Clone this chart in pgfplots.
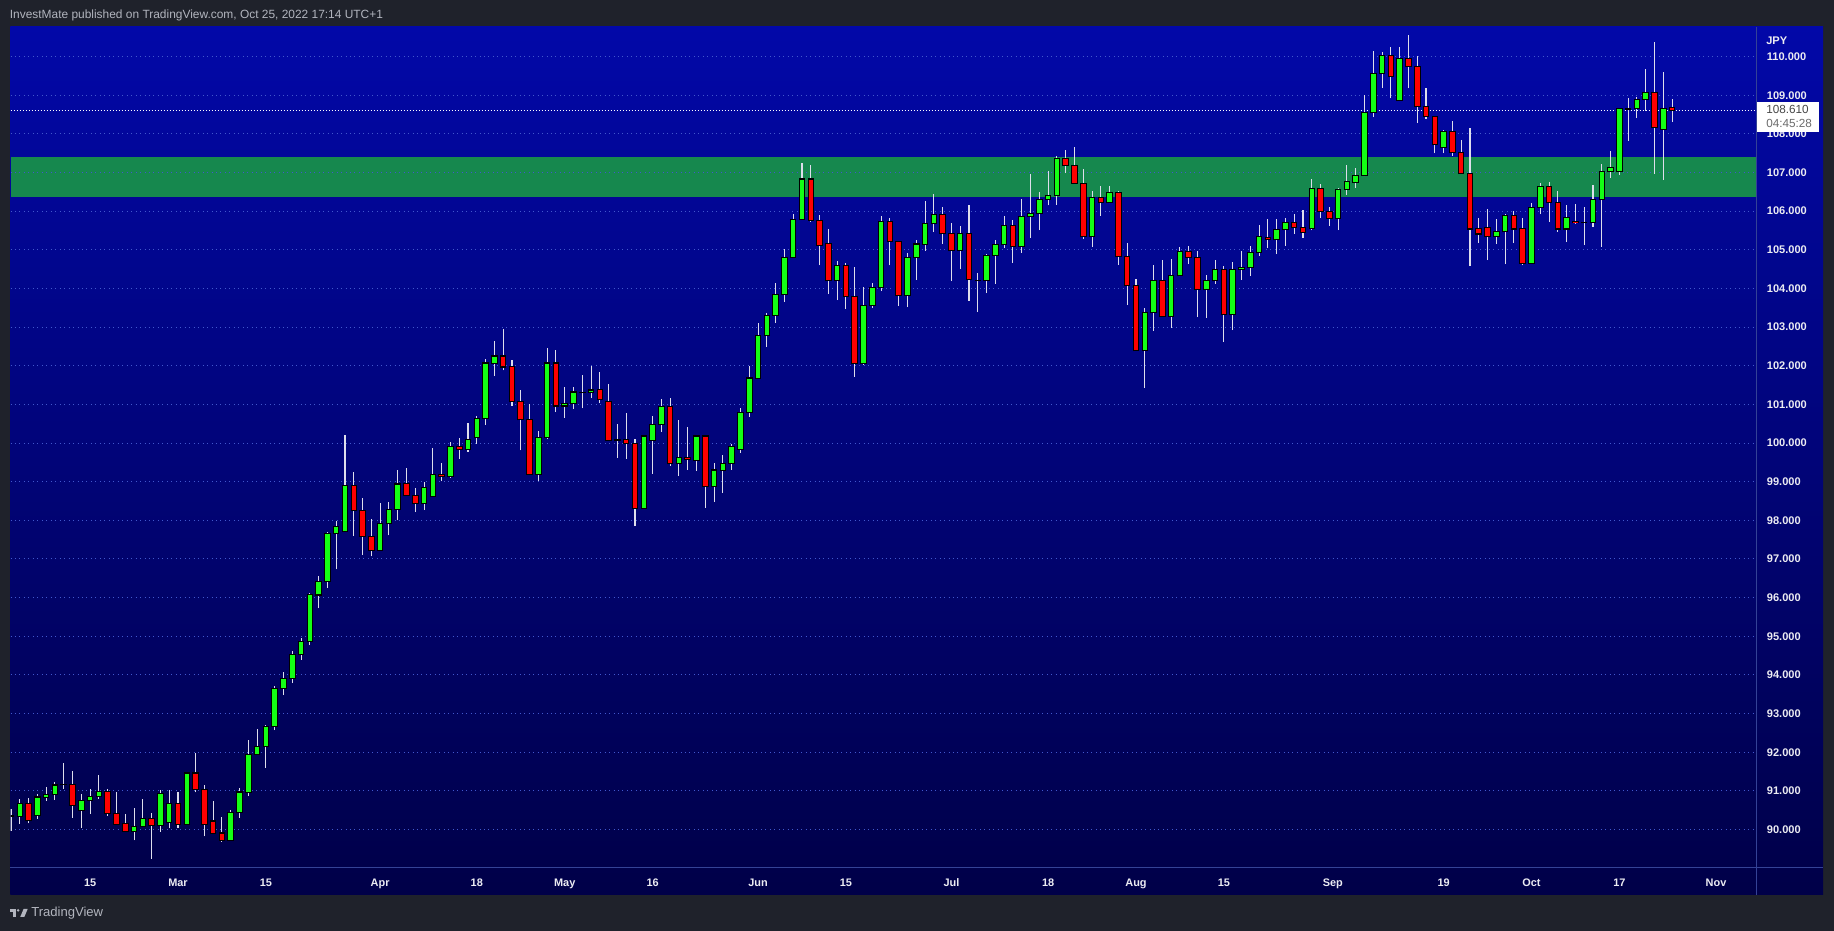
\documentclass[border=0pt]{standalone}
\usepackage{pgfplots}
\pgfplotsset{compat=1.18}
\usepackage{pgfplotstable}
\usepackage{fontspec}
\setmainfont{Liberation Sans}

\definecolor{bgdark}{RGB}{31,34,43}
\definecolor{paneltop}{RGB}{2,8,168}
\definecolor{panelbot}{RGB}{0,0,72}
\definecolor{sepline}{RGB}{52,66,150}
\definecolor{gridblue}{RGB}{66,88,205}
\definecolor{zone}{RGB}{22,136,78}
\definecolor{upcol}{RGB}{20,255,20}
\definecolor{downcol}{RGB}{255,0,0}
\definecolor{wickcol}{RGB}{222,222,236}
\definecolor{labelcol}{RGB}{236,236,242}
\definecolor{headcol}{RGB}{178,181,190}
\definecolor{boxtext}{RGB}{70,70,70}

% daily candles, i = weekday index (0 = Feb 15, 2022)
\pgfplotstableread{
i o h l c
-9 90.35 90.53 89.97 90.35
-8 90.34 90.78 90.15 90.68
-7 90.68 90.81 90.16 90.24
-6 90.37 90.92 90.28 90.84
-5 90.84 91.09 90.74 90.91
-4 90.91 91.23 90.77 91.15
-3 91.16 91.73 91.05 91.16
-2 91.17 91.52 90.30 90.63
-1 90.50 90.92 90.05 90.76
0 90.76 91.05 90.41 90.86
1 90.86 91.41 90.80 90.99
2 90.99 91.05 90.36 90.42
3 90.42 90.97 90.14 90.14
4 90.16 90.41 89.96 89.96
5 89.96 90.56 89.72 90.08
6 90.09 90.79 90.09 90.28
7 90.28 90.43 89.25 90.10
8 90.11 91.03 89.94 90.94
9 90.19 91.03 90.03 90.68
10 90.68 90.97 90.05 90.14
11 90.14 91.49 90.14 91.46
12 91.46 91.99 90.96 91.03
13 91.03 91.16 89.82 90.14
14 90.22 90.74 89.91 89.91
15 89.91 90.33 89.69 89.72
16 89.72 90.51 89.72 90.45
17 90.45 91.08 90.31 90.97
18 90.97 92.32 90.88 91.95
19 91.95 92.60 91.93 92.15
20 92.15 92.70 91.60 92.67
21 92.67 93.71 92.57 93.65
22 93.65 94.07 93.48 93.91
23 93.91 94.63 93.79 94.52
24 94.52 94.95 94.39 94.86
25 94.86 96.13 94.77 96.07
26 96.07 96.55 95.73 96.41
27 96.41 97.71 96.25 97.65
28 97.65 97.99 96.73 97.83
29 97.71 100.20 97.71 98.91
30 98.91 99.24 97.59 98.25
31 98.25 98.57 97.10 97.59
32 97.57 98.03 97.07 97.23
33 97.23 98.44 97.23 97.91
34 97.91 98.47 97.61 98.29
35 98.29 99.29 98.00 98.94
36 98.95 99.35 98.64 98.64
37 98.64 98.83 98.21 98.44
38 98.44 98.99 98.27 98.85
39 98.62 99.86 98.62 99.19
40 99.19 99.48 99.01 99.13
41 99.13 100.04 99.10 99.91
42 99.91 100.12 99.59 99.83
43 99.83 100.53 99.77 100.10
44 100.14 100.71 99.98 100.63
45 100.63 102.18 100.47 102.07
46 102.07 102.65 101.73 102.25
47 102.25 102.96 101.88 101.97
48 101.97 102.16 100.96 101.07
49 101.07 101.36 99.81 100.60
50 100.60 101.02 99.19 99.19
51 99.19 100.30 99.02 100.14
52 100.14 102.47 100.10 102.07
53 102.07 102.42 100.80 100.96
54 100.96 101.44 100.65 101.02
55 101.02 101.44 100.88 101.32
56 101.31 101.77 100.90 101.31
57 101.30 102.00 101.16 101.37
58 101.38 101.85 101.03 101.12
59 101.08 101.53 100.07 100.07
60 100.08 100.49 99.62 100.08
61 100.10 100.78 99.60 99.99
62 99.99 100.11 97.85 98.31
63 98.31 100.20 98.30 100.18
64 100.07 100.69 99.21 100.48
65 100.48 101.14 100.29 100.95
66 100.95 101.17 99.41 99.47
67 99.47 100.60 99.16 99.62
68 99.63 100.42 99.31 99.58
69 99.55 100.20 99.28 100.18
70 100.18 100.21 98.33 98.88
71 98.88 99.48 98.48 99.30
72 99.30 99.69 98.72 99.48
73 99.48 99.98 99.31 99.92
74 99.84 100.90 99.75 100.80
75 100.80 102.00 100.68 101.68
76 101.68 103.10 101.68 102.79
77 102.79 103.36 102.49 103.31
78 103.31 104.14 103.11 103.85
79 103.85 105.01 103.66 104.81
80 104.81 105.93 104.81 105.78
81 105.78 107.25 105.78 106.83
82 106.83 107.20 105.73 105.77
83 105.76 105.89 104.60 105.11
84 105.16 105.53 103.86 104.20
85 104.20 104.72 103.70 104.59
86 104.59 104.67 103.47 103.79
87 103.79 104.55 101.72 102.05
88 102.05 104.03 102.03 103.55
89 103.55 104.15 103.49 104.02
90 104.02 105.87 103.93 105.73
91 105.73 105.82 104.60 105.21
92 105.21 105.21 103.55 103.81
93 103.81 104.92 103.52 104.80
94 104.80 105.25 104.22 105.15
95 105.15 106.26 104.97 105.68
96 105.68 106.44 105.46 105.91
97 105.91 106.10 105.15 105.42
98 105.42 105.69 104.19 104.98
99 104.98 105.61 104.50 105.42
100 105.42 106.15 103.68 104.23
101 104.21 104.39 103.39 104.21
102 104.20 104.88 103.88 104.85
103 104.85 105.25 104.12 105.13
104 105.13 105.87 105.05 105.63
105 105.63 105.77 104.66 105.08
106 105.08 106.31 104.92 105.86
107 105.86 106.96 105.31 105.94
108 105.94 106.49 105.51 106.30
109 106.30 107.03 106.15 106.40
110 106.40 107.42 106.16 107.36
111 107.36 107.58 107.00 107.18
112 107.18 107.66 106.72 106.72
113 106.72 107.09 105.28 105.34
114 105.34 106.52 105.07 106.35
115 106.35 106.65 105.88 106.22
116 106.22 106.65 106.20 106.48
117 106.48 106.52 104.61 104.82
118 104.82 105.17 103.57 104.07
119 104.07 104.24 102.39 102.39
120 102.39 103.49 101.42 103.37
121 103.37 104.60 102.90 104.20
122 104.20 104.73 103.27 103.27
123 103.27 104.75 102.98 104.33
124 104.33 105.07 104.31 104.95
125 104.95 105.09 104.63 104.80
126 104.80 104.96 103.26 103.97
127 103.97 104.34 103.23 104.20
128 104.20 104.73 104.12 104.49
129 104.49 104.57 102.61 103.32
130 103.32 104.68 102.92 104.49
131 104.49 104.96 104.22 104.54
132 104.54 105.09 104.32 104.93
133 104.93 105.64 104.85 105.34
134 105.32 105.79 105.05 105.26
135 105.26 105.79 104.89 105.52
136 105.52 105.82 105.10 105.70
137 105.70 105.92 105.42 105.58
138 105.58 106.02 105.31 105.45
139 105.55 106.83 105.50 106.59
140 106.59 106.70 105.83 105.99
141 105.99 106.10 105.62 105.81
142 105.81 106.61 105.51 106.56
143 106.56 107.19 106.42 106.77
144 106.74 107.11 106.61 106.92
145 106.92 109.00 106.90 108.55
146 108.55 110.14 108.43 109.56
147 109.56 110.11 109.18 110.03
148 110.03 110.24 108.92 109.48
149 108.86 110.24 108.86 109.95
150 109.95 110.55 109.18 109.74
151 109.74 110.01 108.28 108.70
152 108.70 109.18 108.39 108.45
153 108.45 108.47 107.50 107.72
154 107.64 108.11 107.50 108.06
155 108.06 108.34 107.43 107.51
156 107.51 107.83 106.97 106.97
157 106.97 108.16 104.58 105.54
158 105.54 105.83 105.17 105.41
159 105.57 106.06 104.73 105.34
160 105.34 105.80 105.15 105.47
161 105.47 105.93 104.63 105.88
162 105.88 106.01 105.17 105.54
163 105.54 105.81 104.60 104.65
164 104.65 106.22 104.65 106.09
165 106.09 106.74 105.92 106.63
166 106.63 106.76 105.72 106.22
167 106.22 106.53 105.47 105.54
168 105.54 106.17 105.20 105.83
169 105.74 106.19 105.68 105.70
170 105.70 106.11 105.12 105.70
171 105.70 106.68 105.60 106.30
172 106.30 107.23 105.08 107.02
173 107.02 107.56 106.87 107.12
174 107.02 108.68 106.93 108.65
175 108.64 108.94 107.82 108.64
176 108.65 108.96 108.41 108.89
177 108.89 109.69 108.60 109.07
178 109.07 110.37 106.97 108.16
179 108.11 109.59 106.81 108.65
180 108.67 108.89 108.31 108.61
}\cadjpy

% #1 colour, #2 line width of the vertical stroke
\pgfplotsset{
  candle/.style 2 args={draw=none, mark=none, forget plot,
    error bars/.cd, y dir=plus, y explicit, error mark=none,
    error bar style={solid, line cap=butt, draw=#1, line width=#2}},
}

\begin{document}
\begin{tikzpicture}[x=0.75pt,y=0.75pt]
% page and panel
\fill[bgdark] (0,0) rectangle (1834,931);
\shade[top color=paneltop, bottom color=panelbot] (10.3,36) rectangle (1823,904);

\begin{axis}[
  at={(7.875pt,47.25pt)}, anchor=south west,
  width=1309.5pt, height=630.75pt, scale only axis,
  xmin=-9.057, xmax=189.6, ymin=89.005, ymax=110.765,
  axis line style={draw=none},
  major tick length=0pt,
  ytick={90,91,...,110},
  yticklabel pos=right,
  yticklabel={\pgfmathprintnumber[fixed,fixed zerofill,precision=3,assume math mode=true]{\tick}},
  yticklabel style={anchor=west, inner sep=0pt, xshift=7.6pt,
    font=\fontsize{8.3}{10}\selectfont\bfseries, text=labelcol},
  xtick={0,10,20,33,44,54,64,76,86,98,109,119,129,141.4,154,164,174,185},
  xticklabels={15,Mar,15,Apr,18,May,16,Jun,15,Jul,18,Aug,15,Sep,19,Oct,17,Nov},
  xticklabel style={anchor=base, inner sep=0pt, yshift=-13.9pt,
    font=\fontsize{8.2}{10}\selectfont\bfseries, text=labelcol},
]
% support / resistance zone
\fill[zone] (axis cs:-9.057,106.37) rectangle (axis cs:189.6,107.40);
% dotted horizontal grid, drawn over the zone
\pgfplotsinvokeforeach{90,...,110}{
  \draw[gridblue, line width=0.75pt, dash pattern=on 0.75pt off 2.6pt]
    (axis cs:-9.057,#1) -- (axis cs:189.6,#1);
}

% last price line
\addplot[white, line width=0.75pt, dash pattern=on 0.75pt off 1.5pt, forget plot]
  coordinates {(-9.057,108.61) (189.6,108.61)};

% wicks
\addplot[candle={wickcol}{0.8pt}]
  table[x=i, y=l, y error expr={\thisrow{h}-\thisrow{l}}] {\cadjpy};
% body outlines
\addplot[candle={black}{4.9pt}]
  table[x=i, y expr={min(\thisrow{o},\thisrow{c})-0.016},
        y error expr={abs(\thisrow{c}-\thisrow{o})+0.032}] {\cadjpy};
% rising bodies
\addplot[restrict expr to domain={\thisrow{c}-\thisrow{o}}{0.001:100},
  candle={upcol}{3.4pt}]
  table[x=i, y expr={\thisrow{o}+0.013},
        y error expr={\thisrow{c}-\thisrow{o}-0.026}] {\cadjpy};
% falling bodies
\addplot[restrict expr to domain={\thisrow{c}-\thisrow{o}}{-100:-0.001},
  candle={downcol}{3.4pt}]
  table[x=i, y expr={\thisrow{c}+0.013},
        y error expr={\thisrow{o}-\thisrow{c}-0.026}] {\cadjpy};
\end{axis}

% separators
\draw[sepline, line width=0.75pt] (1756.5,36) -- (1756.5,904);
\draw[sepline, line width=0.75pt] (10.3,63) -- (1823,63);

% price scale extras
\node[anchor=west, inner sep=0pt, font=\fontsize{8.3}{10}\selectfont\bfseries, text=labelcol]
  at (1766,890.3) {JPY};
\fill[white] (1756.5,799.3) rectangle (1818.7,829.3);
\node[anchor=west, inner sep=0pt, font=\fontsize{8.8}{10}\selectfont, text=boxtext]
  at (1766,821.7) {108.610};
\node[anchor=west, inner sep=0pt, font=\fontsize{8.8}{10}\selectfont, text=boxtext!80]
  at (1766,807.7) {04:45:28};

% header and footer
\node[anchor=base west, inner sep=0pt, font=\fontsize{8.95}{10}\selectfont, text=headcol]
  at (9.6,912) {InvestMate published on TradingView.com, Oct 25, 2022 17:14 UTC+1};
\fill[headcol] (9.8,22) rectangle (15.6,19.4);
\fill[headcol] (12.6,19.4) rectangle (15.6,14);
\fill[headcol] (18.2,20.6) circle (1.4);
\fill[headcol] (20.2,14) -- (23.6,22) -- (27.7,22) -- (24.3,14) -- cycle;
\node[anchor=base west, inner sep=0pt, font=\fontsize{9.8}{11}\selectfont, text=headcol]
  at (31,14) {TradingView};

\pgfresetboundingbox
\path (0,0) rectangle (1834,931);
\end{tikzpicture}
\end{document}
